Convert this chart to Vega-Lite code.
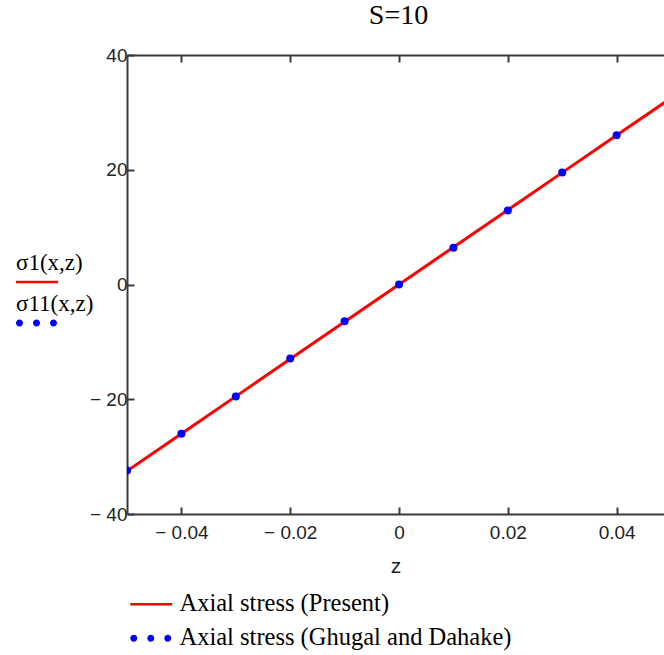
{
  "$schema": "https://vega.github.io/schema/vega-lite/v6.json",
  "width": 537,
  "height": 459,
  "autosize": {"type": "none"},
  "padding": {"left": 127, "top": 55, "right": 0, "bottom": 141},
  "background": "white",
  "title": {"text": "S=10", "font": "Liberation Serif", "fontSize": 28, "fontWeight": "normal", "color": "#000000", "offset": 16, "anchor": "middle", "dx": 3},
  "datasets": {
    "present": [
      {"z": -0.05, "sigma": -32.5, "series": "Axial stress (Present)"},
      {"z": -0.04, "sigma": -26.0, "series": "Axial stress (Present)"},
      {"z": -0.03, "sigma": -19.5, "series": "Axial stress (Present)"},
      {"z": -0.02, "sigma": -13.0, "series": "Axial stress (Present)"},
      {"z": -0.01, "sigma": -6.5, "series": "Axial stress (Present)"},
      {"z": 0.0, "sigma": 0.0, "series": "Axial stress (Present)"},
      {"z": 0.01, "sigma": 6.5, "series": "Axial stress (Present)"},
      {"z": 0.02, "sigma": 13.0, "series": "Axial stress (Present)"},
      {"z": 0.03, "sigma": 19.5, "series": "Axial stress (Present)"},
      {"z": 0.04, "sigma": 26.0, "series": "Axial stress (Present)"},
      {"z": 0.05, "sigma": 32.5, "series": "Axial stress (Present)"}
    ],
    "ghugal": [
      {"z": -0.05, "sigma": -32.4, "series": "Axial stress (Ghugal and Dahake)"},
      {"z": -0.04, "sigma": -26.0, "series": "Axial stress (Ghugal and Dahake)"},
      {"z": -0.03, "sigma": -19.5, "series": "Axial stress (Ghugal and Dahake)"},
      {"z": -0.02, "sigma": -12.9, "series": "Axial stress (Ghugal and Dahake)"},
      {"z": -0.01, "sigma": -6.4, "series": "Axial stress (Ghugal and Dahake)"},
      {"z": 0.0, "sigma": 0.0, "series": "Axial stress (Ghugal and Dahake)"},
      {"z": 0.01, "sigma": 6.4, "series": "Axial stress (Ghugal and Dahake)"},
      {"z": 0.02, "sigma": 12.9, "series": "Axial stress (Ghugal and Dahake)"},
      {"z": 0.03, "sigma": 19.5, "series": "Axial stress (Ghugal and Dahake)"},
      {"z": 0.04, "sigma": 26.0, "series": "Axial stress (Ghugal and Dahake)"},
      {"z": 0.05, "sigma": 32.4, "series": "Axial stress (Ghugal and Dahake)"}
    ]
  },
  "config": {
    "view": {"stroke": null},
    "axis": {
      "domainColor": "#3a3a3a",
      "domainWidth": 2,
      "tickColor": "#3a3a3a",
      "tickWidth": 2,
      "tickSize": -7,
      "grid": false,
      "labelFont": "Liberation Sans",
      "labelFontSize": 19,
      "labelColor": "#222222",
      "titleFont": "Liberation Sans",
      "titleFontSize": 21,
      "titleFontWeight": "normal",
      "titleColor": "#222222",
      "labelFlush": false,
      "labelOverlap": false
    }
  },
  "resolve": {"axis": {"x": "independent"}},
  "layer": [
    {
      "data": {"name": "present"},
      "mark": {"type": "line", "color": "#ff0000", "strokeWidth": 3, "clip": true},
      "encoding": {
        "x": {
          "field": "z", "type": "quantitative",
          "scale": {"domain": [-0.05, 0.04871], "nice": false, "zero": false},
          "axis": {
            "orient": "bottom",
            "values": [-0.04, -0.02, 0, 0.02, 0.04],
            "labelExpr": "datum.value < 0 ? '− ' + format(-datum.value, '.2f') : (datum.value == 0 ? '0' : format(datum.value, '.2f'))",
            "labelPadding": 16,
            "title": "z",
            "titlePadding": 13
          }
        },
        "y": {
          "field": "sigma", "type": "quantitative",
          "scale": {"domain": [-40, 40], "nice": false, "zero": false},
          "axis": {
            "values": [-40, -20, 0, 20, 40],
            "labelExpr": "datum.value < 0 ? '− ' + format(-datum.value, 'd') : format(datum.value, 'd')",
            "labelPadding": 7,
            "title": null
          }
        }
      }
    },
    {
      "data": {"name": "ghugal"},
      "mark": {"type": "circle", "color": "#0000ff", "size": 64, "opacity": 1, "clip": true},
      "encoding": {
        "x": {
          "field": "z", "type": "quantitative",
          "axis": {"orient": "top", "values": [-0.04, -0.02, 0, 0.02, 0.04], "labels": false, "title": null}
        },
        "y": {"field": "sigma", "type": "quantitative"}
      }
    },
    {
      "data": {"name": "ghugal"},
      "transform": [{"filter": "false"}],
      "mark": {"type": "point", "filled": true, "size": 100, "opacity": 1, "strokeWidth": 0},
      "encoding": {
        "color": {
          "field": "series", "type": "nominal",
          "scale": {"domain": ["Axial stress (Present)", "Axial stress (Ghugal and Dahake)"], "range": ["#ff0000", "#0000ff"]},
          "legend": {
            "title": null, "orient": "none", "legendX": -4, "legendY": 537, "direction": "vertical",
            "labelFont": "Liberation Serif", "labelFontSize": 24.5, "labelColor": "#000000", "labelLimit": 0,
            "symbolSize": 100, "symbolStrokeWidth": 0, "labelOffset": 32, "rowPadding": 9, "padding": 0
          }
        },
        "shape": {
          "field": "series", "type": "nominal",
          "scale": {
            "domain": ["Axial stress (Present)", "Axial stress (Ghugal and Dahake)"],
            "range": [
              "M-1,-0.25H7.4V0.25H-1Z",
              "M-1,0C-1,-0.3866 -0.6866,-0.7 -0.3,-0.7C0.0866,-0.7 0.4,-0.3866 0.4,0C0.4,0.3866 0.0866,0.7 -0.3,0.7C-0.6866,0.7 -1,0.3866 -1,0ZM2.4,0C2.4,-0.3866 2.7134,-0.7 3.1,-0.7C3.4866,-0.7 3.8,-0.3866 3.8,0C3.8,0.3866 3.4866,0.7 3.1,0.7C2.7134,0.7 2.4,0.3866 2.4,0ZM5.8,0C5.8,-0.3866 6.1134,-0.7 6.5,-0.7C6.8866,-0.7 7.2,-0.3866 7.2,0C7.2,0.3866 6.8866,0.7 6.5,0.7C6.1134,0.7 5.8,0.3866 5.8,0Z"
            ]
          },
          "legend": {
            "title": null, "orient": "none", "legendX": -4, "legendY": 537, "direction": "vertical",
            "labelFont": "Liberation Serif", "labelFontSize": 24.5, "labelColor": "#000000", "labelLimit": 0,
            "symbolSize": 100, "symbolStrokeWidth": 0, "labelOffset": 32, "rowPadding": 9, "padding": 0
          }
        }
      }
    },
    {
      "data": {"name": "present"},
      "transform": [{"filter": "false"}],
      "mark": {"type": "point", "filled": true, "size": 100, "opacity": 1, "strokeWidth": 0, "shape": "M-1,-0.25H7.4V0.25H-1Z"},
      "encoding": {
        "fill": {
          "field": "series", "type": "nominal",
          "scale": {"domain": ["σ1(x,z)"], "range": ["#ff0000"]},
          "legend": {
            "title": "σ1(x,z)", "titleFont": "Liberation Serif", "titleFontSize": 23, "titleFontWeight": "normal", "titleColor": "#000000", "titlePadding": 2,
            "orient": "none", "legendX": -111, "legendY": 197, "labelExpr": "''", "labelOffset": 0,
            "symbolSize": 100, "symbolType": "M-1,-0.25H7.4V0.25H-1Z", "symbolFillColor": "#ff0000", "symbolStrokeWidth": 0, "padding": 0
          }
        }
      }
    },
    {
      "data": {"name": "ghugal"},
      "transform": [{"filter": "false"}],
      "mark": {"type": "point", "filled": true, "size": 100, "opacity": 1, "fill": "#0000ff", "strokeWidth": 0, "shape": "M-1,0C-1,-0.3866 -0.6866,-0.7 -0.3,-0.7C0.0866,-0.7 0.4,-0.3866 0.4,0C0.4,0.3866 0.0866,0.7 -0.3,0.7C-0.6866,0.7 -1,0.3866 -1,0ZM2.4,0C2.4,-0.3866 2.7134,-0.7 3.1,-0.7C3.4866,-0.7 3.8,-0.3866 3.8,0C3.8,0.3866 3.4866,0.7 3.1,0.7C2.7134,0.7 2.4,0.3866 2.4,0ZM5.8,0C5.8,-0.3866 6.1134,-0.7 6.5,-0.7C6.8866,-0.7 7.2,-0.3866 7.2,0C7.2,0.3866 6.8866,0.7 6.5,0.7C6.1134,0.7 5.8,0.3866 5.8,0Z"},
      "encoding": {
        "stroke": {
          "field": "series", "type": "nominal",
          "scale": {"domain": ["σ11(x,z)"], "range": ["#0000ff"]},
          "legend": {
            "title": "σ11(x,z)", "titleFont": "Liberation Serif", "titleFontSize": 23, "titleFontWeight": "normal", "titleColor": "#000000", "titlePadding": 2,
            "orient": "none", "legendX": -111, "legendY": 238, "labelExpr": "''", "labelOffset": 0,
            "symbolSize": 100, "symbolType": "M-1,0C-1,-0.3866 -0.6866,-0.7 -0.3,-0.7C0.0866,-0.7 0.4,-0.3866 0.4,0C0.4,0.3866 0.0866,0.7 -0.3,0.7C-0.6866,0.7 -1,0.3866 -1,0ZM2.4,0C2.4,-0.3866 2.7134,-0.7 3.1,-0.7C3.4866,-0.7 3.8,-0.3866 3.8,0C3.8,0.3866 3.4866,0.7 3.1,0.7C2.7134,0.7 2.4,0.3866 2.4,0ZM5.8,0C5.8,-0.3866 6.1134,-0.7 6.5,-0.7C6.8866,-0.7 7.2,-0.3866 7.2,0C7.2,0.3866 6.8866,0.7 6.5,0.7C6.1134,0.7 5.8,0.3866 5.8,0Z",
            "symbolFillColor": "#0000ff", "symbolStrokeWidth": 0, "padding": 0
          }
        }
      }
    }
  ]
}
